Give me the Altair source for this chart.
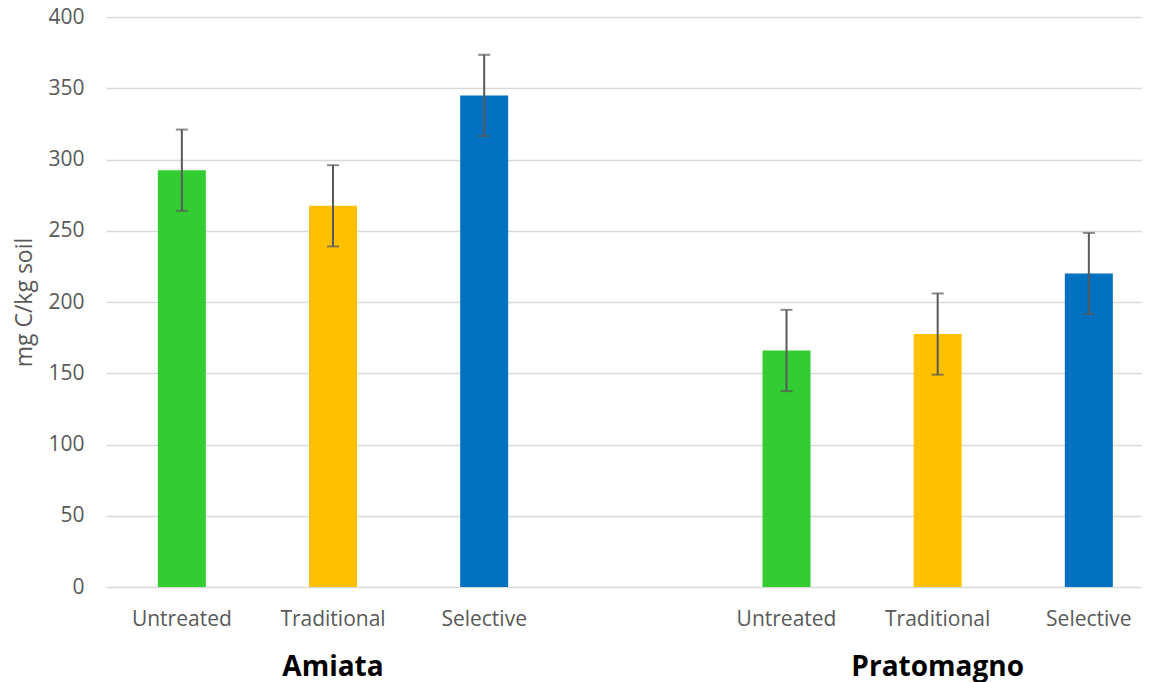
import altair as alt
import pandas as pd

groups = ["Amiata", "Pratomagno"]
treatments = ["Untreated", "Traditional", "Selective"]
colors = ["#33CC33", "#FFC000", "#0070C0"]
amiata_mean = [292.5, 267.5, 345]
amiata_err = [28.5, 28.5, 28.5]
pratomagno_mean = [166, 177.5, 220]
pratomagno_err = [28.5, 28.5, 28.5]
y_ticks = [0, 50, 100, 150, 200, 250, 300, 350, 400]

rows = []
for g, means, errs in [("Amiata", amiata_mean, amiata_err),
                       ("Pratomagno", pratomagno_mean, pratomagno_err)]:
    for t, m, e in zip(treatments, means, errs):
        rows.append(dict(key=f"{g}|{t}", group=g, treatment=t,
                         mean=m, lo=m - e, hi=m + e))
df = pd.DataFrame(rows)

domain = [f"Amiata|{t}" for t in treatments] + ["gap"] + \
         [f"Pratomagno|{t}" for t in treatments]

grp_df = pd.DataFrame({"key": [f"{g}|Traditional" for g in groups],
                       "group": groups})

FONT = "Open Sans"
GRAY = "#595959"
H = 570
W = 1036

xscale = alt.Scale(domain=domain, paddingInner=0.6825, paddingOuter=0.268, align=0.64)
xaxis = alt.Axis(title=None, labelExpr="split(datum.label, '|')[1] || ''",
                 labelAngle=0, ticks=False, tickSize=0, domain=False, grid=False,
                 labelFont=FONT, labelFontSize=21, labelColor=GRAY, labelPadding=21)
yscale = alt.Scale(domain=[0, 400], nice=False)
yaxis = alt.Axis(values=y_ticks, title="mg C/kg soil", titleFont=FONT,
                 titleFontSize=23, titleFontWeight="normal", titleColor=GRAY,
                 titlePadding=11, labelFont=FONT, labelFontSize=21,
                 labelColor=GRAY, labelPadding=22, ticks=False, tickSize=0,
                 domain=False, grid=True, gridColor="#D9D9D9", gridWidth=1.5)

base = alt.Chart(df)

bars = base.mark_bar().encode(
    x=alt.X("key:N", scale=xscale, axis=xaxis),
    y=alt.Y("mean:Q", scale=yscale, axis=yaxis),
    color=alt.Color("treatment:N", scale=alt.Scale(domain=treatments, range=colors), legend=None),
)

err = base.mark_rule(color=GRAY, strokeWidth=2).encode(
    x=alt.X("key:N"), y=alt.Y("lo:Q"), y2="hi:Q")
cap_lo = base.mark_tick(color=GRAY, thickness=2, size=12, orient="horizontal").encode(
    x=alt.X("key:N"), y=alt.Y("lo:Q"))
cap_hi = base.mark_tick(color=GRAY, thickness=2, size=12, orient="horizontal").encode(
    x=alt.X("key:N"), y=alt.Y("hi:Q"))

labels = alt.Chart(grp_df).mark_text(
    font=FONT, fontSize=28, fontWeight="bold", color="black", baseline="middle"
).encode(x=alt.X("key:N"), y=alt.value(H + 81), text="group:N")

chart = alt.layer(bars, err, cap_lo, cap_hi, labels).properties(
    width=W, height=H,
    padding={"left": 5, "top": -2, "right": 0, "bottom": 0},
).configure_view(stroke=None)

chart.save("out.html", embed_options={"renderer": "svg", "actions": False})
